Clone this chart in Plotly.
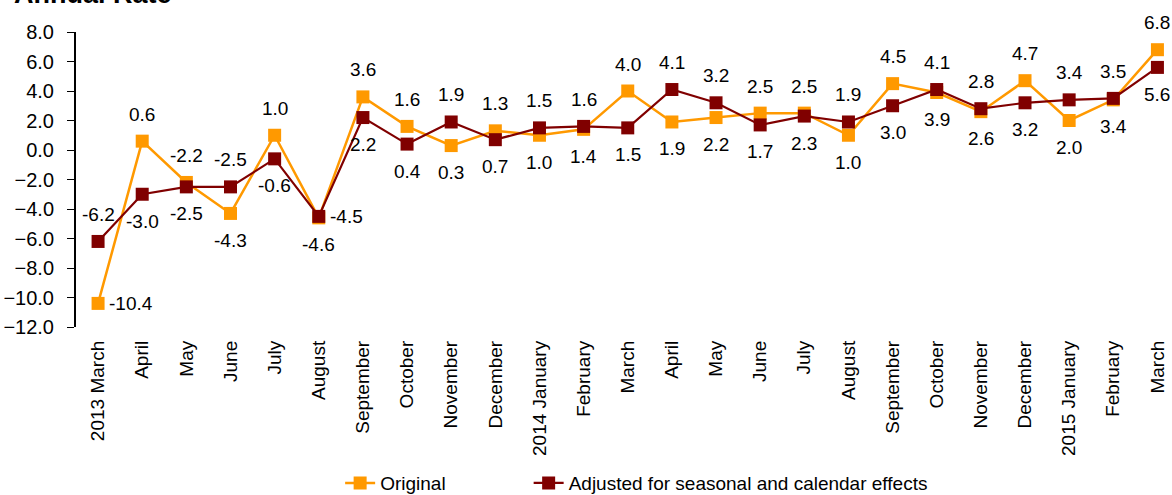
import plotly.graph_objects as go

categories = ["2013 March", "April", "May", "June", "July", "August", "September",
              "October", "November", "December", "2014 January", "February", "March",
              "April", "May", "June", "July", "August", "September", "October",
              "November", "December", "2015 January", "February", "March"]
original = [-10.4, 0.6, -2.2, -4.3, 1.0, -4.6, 3.6, 1.6, 0.3, 1.3, 1.0, 1.4, 4.0,
            1.9, 2.2, 2.5, 2.5, 1.0, 4.5, 3.9, 2.6, 4.7, 2.0, 3.4, 6.8]
adjusted = [-6.2, -3.0, -2.5, -2.5, -0.6, -4.5, 2.2, 0.4, 1.9, 0.7, 1.5, 1.6, 1.5,
            4.1, 3.2, 1.7, 2.3, 1.9, 3.0, 4.1, 2.8, 3.2, 3.4, 3.5, 5.6]
y_ticks = [-12, -10, -8, -6, -4, -2, 0, 2, 4, 6, 8]

# label placement (style): t = above, b = below, r = right
orig_pos = ["r", "t", "t", "b", "t", "b", "t", "t", "b", "t", "b", "b", "t",
            "b", "b", "t", "t", "b", "t", "b", "b", "t", "b", "b", "t"]
adj_pos = ["t", "b", "b", "t", "b", "r", "b", "b", "t", "b", "t", "t", "b",
           "t", "t", "b", "b", "t", "b", "t", "t", "b", "t", "t", "b"]

ORANGE = "#FF9900"
MAROON = "#800000"
FONT = "Liberation Sans, Arial, sans-serif"

xs = list(range(len(categories)))

fig = go.Figure()
fig.add_trace(go.Scatter(
    x=xs, y=original, name="Original", mode="lines+markers",
    line=dict(color=ORANGE, width=2.5),
    marker=dict(symbol="square", size=13, color=ORANGE),
    legend="legend",
))
fig.add_trace(go.Scatter(
    x=xs, y=adjusted, name="Adjusted for seasonal and calendar effects",
    mode="lines+markers",
    line=dict(color=MAROON, width=2.2),
    marker=dict(symbol="square", size=13, color=MAROON),
    legend="legend2",
))

annotations = []
for vals, pos in ((original, orig_pos), (adjusted, adj_pos)):
    for i, (v, p) in enumerate(zip(vals, pos)):
        a = dict(x=i, y=v, xref="x", yref="y", text=f"{v:.1f}", showarrow=False,
                 font=dict(family=FONT, size=19, color="#000000"))
        if p == "t":
            a.update(yshift=27, xanchor="center", yanchor="middle")
        elif p == "b":
            a.update(yshift=-27, xanchor="center", yanchor="middle")
        else:
            a.update(xshift=9, xanchor="left", yanchor="middle")
        annotations.append(a)

annotations.append(dict(
    x=-0.058, y=1.13, xref="paper", yref="paper", text="<b>Annual Rate</b>",
    showarrow=False, xanchor="left", yanchor="middle",
    font=dict(family=FONT, size=27, color="#000000"),
))

legend_common = dict(orientation="h", y=-0.529, xanchor="left", yanchor="middle",
                     font=dict(family=FONT, size=19, color="#000000"),
                     bgcolor="rgba(0,0,0,0)")

fig.update_layout(
    width=1172, height=495,
    margin=dict(l=76, r=0, t=32, b=168, autoexpand=False),
    paper_bgcolor="white", plot_bgcolor="white",
    font=dict(family=FONT, size=19, color="#000000"),
    showlegend=True,
    legend=dict(x=0.241, **legend_common),
    legend2=dict(x=0.413, **legend_common),
    xaxis=dict(
        range=[-0.5, 24.33], tickmode="array", tickvals=xs, ticktext=categories,
        tickangle=-90, showline=False, showgrid=False, zeroline=False, ticks="",
        tickfont=dict(family=FONT, size=19), ticklabelstandoff=9, automargin=False,
    ),
    xaxis2=dict(
        overlaying="x", matches="x", anchor="free", position=0.6, side="bottom",
        showline=True, linecolor="#000000", linewidth=2, showgrid=False, zeroline=False,
        ticks="outside", ticklen=6, tickwidth=1, tickcolor="#000000",
        tickmode="array", tickvals=[i + 0.5 for i in xs[:-1]], showticklabels=False,
    ),
    yaxis=dict(
        range=[-12, 8], tickmode="array", tickvals=y_ticks, tickformat=".1f",
        showline=True, linecolor="#000000", linewidth=2, showgrid=False, zeroline=False,
        ticks="outside", ticklen=7, tickwidth=1, tickcolor="#000000",
        tickfont=dict(family=FONT, size=20), ticklabelstandoff=9, automargin=False,
    ),
    annotations=annotations,
)

fig.write_html("out.html", config={"displayModeBar": False},
               post_script="document.body.style.margin='0';document.body.style.overflow='hidden';")
